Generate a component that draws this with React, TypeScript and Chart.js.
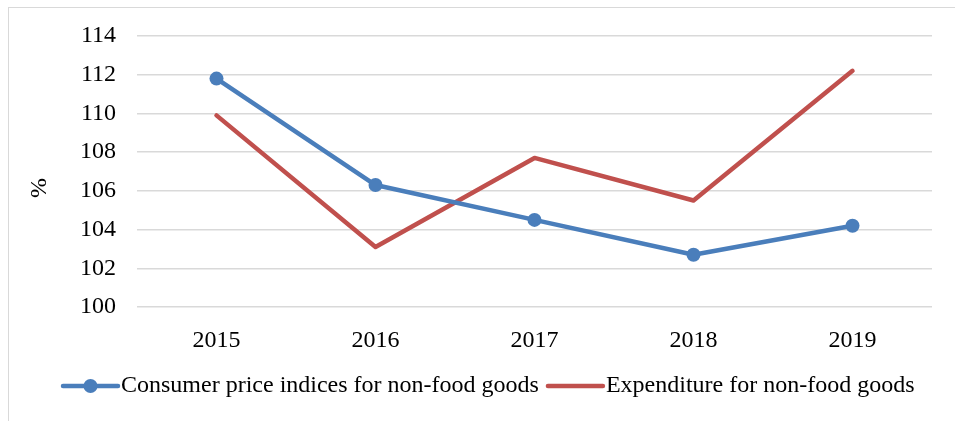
import React, { useEffect, useRef } from "react";
import { Chart, registerables } from "chart.js";

Chart.register(...registerables);

const years = ["2015", "2016", "2017", "2018", "2019"];
const cpiNonFood = [111.8, 106.3, 104.5, 102.7, 104.2];
const expenditureNonFood = [109.9, 103.1, 107.7, 105.5, 112.2];
const seriesLabels = [
  "Consumer price indices for non-food goods",
  "Expenditure for non-food goods",
];
const yAxisTitle = "%";
const yMin = 100;
const yMax = 114;
const yStep = 2;

const FONT = "'Liberation Serif', 'Times New Roman', serif";
const FS = 24;
const BLUE = "#4a7ebb";
const RED = "#c0504d";

const legendPlugin = {
  id: "excelLegend",
  afterDraw(chart: any) {
    const ctx = chart.ctx;
    ctx.save();
    ctx.font = `${FS}px ${FONT}`;
    ctx.textBaseline = "middle";
    ctx.fillStyle = "#000";
    // rotated y-axis title
    ctx.save();
    ctx.translate(40, 188);
    ctx.rotate(-Math.PI / 2);
    ctx.textAlign = "center";
    ctx.fillText(yAxisTitle, 0, 0);
    ctx.restore();

    const y = 386;
    let x = 63;
    chart.data.datasets.forEach((ds: any) => {
      const lineLen = 55;
      ctx.strokeStyle = ds.borderColor;
      ctx.lineWidth = 4.5;
      ctx.lineCap = "round";
      ctx.beginPath();
      ctx.moveTo(x, y);
      ctx.lineTo(x + lineLen, y);
      ctx.stroke();
      if (ds.pointRadius > 0) {
        ctx.fillStyle = ds.borderColor;
        ctx.beginPath();
        ctx.arc(x + lineLen / 2, y, 7, 0, Math.PI * 2);
        ctx.fill();
      }
      ctx.fillStyle = "#000";
      const tx = x + lineLen + 3;
      ctx.fillText(ds.label, tx, y);
      x = tx + ctx.measureText(ds.label).width + 9;
    });
    ctx.restore();
  },
};

export default function App() {
  const ref = useRef<HTMLCanvasElement>(null);
  useEffect(() => {
    const chart = new Chart(ref.current!, {
      type: "line",
      data: {
        labels: years,
        datasets: [
          {
            label: seriesLabels[0],
            data: cpiNonFood,
            borderColor: BLUE,
            backgroundColor: BLUE,
            borderWidth: 4.5,
            pointRadius: 7,
            pointBorderWidth: 0,
            pointBackgroundColor: BLUE,
            borderCapStyle: "round",
            borderJoinStyle: "round",
            tension: 0,
          },
          {
            label: seriesLabels[1],
            data: expenditureNonFood,
            borderColor: RED,
            backgroundColor: RED,
            borderWidth: 4.5,
            pointRadius: 0,
            borderCapStyle: "round",
            borderJoinStyle: "round",
            tension: 0,
          },
        ],
      },
      options: {
        animation: false,
        responsive: false,
        layout: { padding: { left: 28, right: 23, top: 36, bottom: 54 } },
        plugins: {
          legend: { display: false },
          tooltip: { enabled: false },
        },
        scales: {
          x: {
            offset: true,
            grid: { display: false },
            border: { display: false },
            ticks: {
              color: "#000",
              font: { family: FONT, size: FS },
              padding: 11,
              maxRotation: 0,
            },
            afterFit(scale: any) {
              scale.height = 60;
            },
          },
          y: {
            min: yMin,
            max: yMax,
            grid: { color: "#d9d9d9", lineWidth: 1.5, drawTicks: false },
            border: { display: false },
            ticks: {
              stepSize: yStep,
              color: "#000",
              font: { family: FONT, size: FS },
              padding: 21,
            },
            afterFit(scale: any) {
              scale.width = 109;
            },
          },
        },
      },
      plugins: [legendPlugin],
    });
    return () => chart.destroy();
  }, []);
  return (
    <div style={{ position: "fixed", left: 0, top: 0, width: 955, height: 421, background: "#fff", overflow: "hidden" }}>
      <div
        style={{
          position: "absolute",
          left: 8,
          top: 7,
          width: 960,
          height: 430,
          borderLeft: "1.5px solid #d9d9d9",
          borderTop: "1.5px solid #d9d9d9",
        }}
      />
      <canvas ref={ref} width={955} height={421} style={{ position: "absolute", left: 0, top: 0 }} />
    </div>
  );
}
